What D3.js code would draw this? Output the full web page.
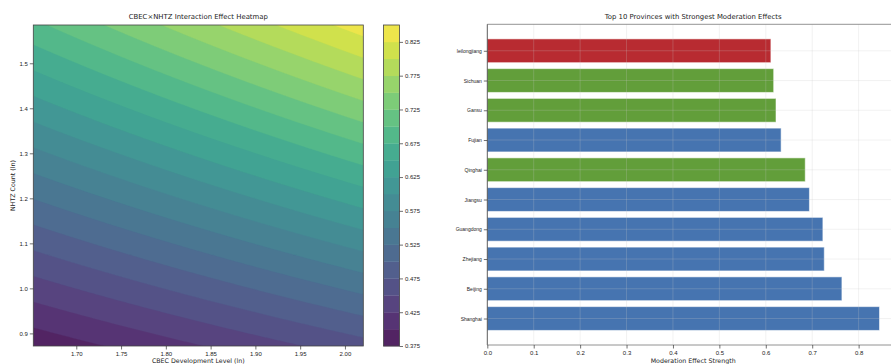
<!DOCTYPE html>
<html>
<head>
<meta charset="utf-8">
<script src="https://cdn.jsdelivr.net/npm/d3@7"></script>
<style>
  html, body { margin: 0; padding: 0; background: #fff; }
  svg { display: block; font-family: "DejaVu Sans", sans-serif; }
</style>
</head>
<body>
<svg id="chart" width="891" height="364"></svg>
<script>
// ---------------- DATA ----------------
// Heatmap surface: values read at the corners of the plotted domain
const surfaceX = [1.652, 2.0205];          // CBEC Development Level (ln)
const surfaceY = [0.872, 1.585];           // NHTZ Count (ln)
const surfaceZ = [[0.382, 0.465],          // row at y = 0.872 (left, right)
                  [0.694, 0.838]];         // row at y = 1.585 (left, right)
const contourLevels = d3.range(0, 20).map(i => +(0.375 + i * 0.025).toFixed(3));
const heatXTicks = [1.70, 1.75, 1.80, 1.85, 1.90, 1.95, 2.00];
const heatYTicks = [0.9, 1.0, 1.1, 1.2, 1.3, 1.4, 1.5];
const colorbarTicks = [0.375, 0.425, 0.475, 0.525, 0.575, 0.625, 0.675, 0.725, 0.775, 0.825];

// Bar chart
const provinces = ["Shanghai", "Beijing", "Zhejiang", "Guangdong", "Jiangsu",
                   "Qinghai", "Fujian", "Gansu", "Sichuan", "leilongjiang"];
const effects = [0.845, 0.764, 0.726, 0.723, 0.694, 0.685, 0.633, 0.622, 0.617, 0.611];
const regions = ["East", "East", "East", "East", "East",
                 "West", "East", "West", "West", "Northeast"];
const barXTicks = [0.0, 0.1, 0.2, 0.3, 0.4, 0.5, 0.6, 0.7, 0.8];
const regionColors = { East: "#4674b0", West: "#629e3a", Northeast: "#b82b31" };

// ---------------- DRAW ----------------
const svg = d3.select("#chart");
const textColor = "#222";
const heatAlpha = 0.9;

// muted viridis (colour-matrix desaturation)
const defs = svg.append("defs");
defs.append("filter").attr("id", "mute").attr("color-interpolation-filters", "sRGB")
  .attr("x", 0).attr("y", 0).attr("width", 1).attr("height", 1)
  .append("feColorMatrix").attr("type", "saturate").attr("values", 0.85);

// ===== Heatmap =====
const H = { left: 33.3, right: 363.3, top: 25, bottom: 346 };
const hx = d3.scaleLinear().domain(surfaceX).range([H.left, H.right]);
const hy = d3.scaleLinear().domain(surfaceY).range([H.bottom, H.top]);

function surface(x, y) {
  const tx = (x - surfaceX[0]) / (surfaceX[1] - surfaceX[0]);
  const ty = (y - surfaceY[0]) / (surfaceY[1] - surfaceY[0]);
  const b = surfaceZ[0][0] * (1 - tx) + surfaceZ[0][1] * tx;
  const t = surfaceZ[1][0] * (1 - tx) + surfaceZ[1][1] * tx;
  return b * (1 - ty) + t * ty;
}

const pad = 3;
const gw = Math.ceil(H.right - H.left) + 2 * pad;
const gh = Math.ceil(H.bottom - H.top) + 2 * pad;
const gx0 = H.left - pad, gy0 = H.top - pad;
const values = new Array(gw * gh);
for (let j = 0; j < gh; j++) {
  for (let i = 0; i < gw; i++) {
    const px = gx0 + i + 0.5, py = gy0 + j + 0.5;
    values[j * gw + i] = surface(hx.invert(px), hy.invert(py));
  }
}
const bandThresholds = contourLevels.slice(0, -1);
const contours = d3.contours().size([gw, gh]).smooth(true).thresholds(bandThresholds)(values);
const lo = contourLevels[0], hi = contourLevels[contourLevels.length - 1];
const bandColor = t => d3.interpolateViridis(((t + 0.0125) - lo) / (hi - lo));

defs.append("clipPath").attr("id", "heatClip")
  .append("rect").attr("x", H.left).attr("y", H.top)
  .attr("width", H.right - H.left).attr("height", H.bottom - H.top);

const path = d3.geoPath(d3.geoTransform({
  point: function (x, y) { this.stream.point(gx0 + x, gy0 + y); }
}));
const heat = svg.append("g").attr("clip-path", "url(#heatClip)")
  .append("g").attr("opacity", heatAlpha)
  .append("g").attr("filter", "url(#mute)");
heat.append("rect").attr("x", H.left - 1).attr("y", H.top - 1)
  .attr("width", H.right - H.left + 2).attr("height", H.bottom - H.top + 2)
  .attr("fill", bandColor(lo));
heat.selectAll("path").data(contours).join("path")
  .attr("d", path)
  .attr("fill", d => bandColor(d.value))
  .attr("stroke", d => bandColor(d.value))
  .attr("stroke-width", 0.3);

svg.append("rect").attr("x", H.left).attr("y", H.top)
  .attr("width", H.right - H.left).attr("height", H.bottom - H.top)
  .attr("fill", "none").attr("stroke", "#444").attr("stroke-width", 0.8);

const hxAxis = svg.append("g").attr("transform", `translate(0,${H.bottom})`)
  .call(d3.axisBottom(hx).tickValues(heatXTicks).tickFormat(d3.format(".2f")).tickSize(3.5).tickPadding(2));
const hyAxis = svg.append("g").attr("transform", `translate(${H.left},0)`)
  .call(d3.axisLeft(hy).tickValues(heatYTicks).tickFormat(d3.format(".1f")).tickSize(3.5).tickPadding(2));
[hxAxis, hyAxis].forEach(a => {
  a.select(".domain").remove();
  a.selectAll(".tick line").attr("stroke", "#333").attr("stroke-width", 0.7);
  a.selectAll(".tick text").attr("fill", textColor).style("font-size", "6px");
});

svg.append("text").attr("x", (H.left + H.right) / 2).attr("y", 18.5)
  .attr("text-anchor", "middle").attr("fill", textColor).style("font-size", "6.9px")
  .text("CBEC×NHTZ Interaction Effect Heatmap");
svg.append("text").attr("x", (H.left + H.right) / 2).attr("y", 362.5)
  .attr("text-anchor", "middle").attr("fill", textColor).style("font-size", "6.3px")
  .text("CBEC Development Level (ln)");
svg.append("text").attr("transform", `translate(14.5,${(H.top + H.bottom) / 2}) rotate(-90)`)
  .attr("text-anchor", "middle").attr("fill", textColor).style("font-size", "6.3px")
  .text("NHTZ Count (ln)");

// ===== Colorbar =====
const C = { left: 383.5, right: 399.5, top: 25, bottom: 346 };
const cy = d3.scaleLinear().domain([lo, hi]).range([C.bottom, C.top]);
svg.append("g").attr("opacity", heatAlpha).append("g").attr("filter", "url(#mute)")
  .selectAll("rect").data(bandThresholds).join("rect")
  .attr("x", C.left).attr("width", C.right - C.left)
  .attr("y", d => cy(d + 0.025)).attr("height", d => cy(d) - cy(d + 0.025) + 0.3)
  .attr("fill", d => bandColor(d));
svg.append("rect").attr("x", C.left).attr("y", C.top)
  .attr("width", C.right - C.left).attr("height", C.bottom - C.top)
  .attr("fill", "none").attr("stroke", "#444").attr("stroke-width", 0.8);
const cAxis = svg.append("g").attr("transform", `translate(${C.right},0)`)
  .call(d3.axisRight(cy).tickValues(colorbarTicks).tickFormat(d3.format(".3f")).tickSize(3.5).tickPadding(2));
cAxis.select(".domain").remove();
cAxis.selectAll(".tick line").attr("stroke", "#333").attr("stroke-width", 0.7);
cAxis.selectAll(".tick text").attr("fill", textColor).style("font-size", "6px");

// ===== Bar chart =====
const B = { left: 487.3, right: 899, top: 24.3, bottom: 345 };
const bx = d3.scaleLinear().domain([0, 0.887]).range([B.left, B.right]);
const by = d3.scaleLinear().domain([-0.89, provinces.length - 1 + 0.89]).range([B.bottom, B.top]);
const idx = d3.range(provinces.length);

svg.append("g").selectAll("rect").data(idx).join("rect")
  .attr("x", bx(0))
  .attr("y", i => by(i + 0.4))
  .attr("width", i => bx(effects[i]) - bx(0))
  .attr("height", i => by(i - 0.4) - by(i + 0.4))
  .attr("fill", i => regionColors[regions[i]])
  .attr("stroke", "#ffffff").attr("stroke-opacity", 0.55).attr("stroke-width", 1);

const grid = svg.append("g").attr("stroke", "rgb(200,200,200)").attr("stroke-opacity", 0.3).attr("stroke-width", 0.8);
grid.selectAll("line.v").data(barXTicks.slice(1)).join("line").attr("class", "v")
  .attr("x1", d => bx(d)).attr("x2", d => bx(d)).attr("y1", B.top).attr("y2", B.bottom);
grid.selectAll("line.h").data(idx).join("line").attr("class", "h")
  .attr("x1", B.left).attr("x2", B.right).attr("y1", i => by(i)).attr("y2", i => by(i));

// spines
svg.append("line").attr("x1", B.left).attr("x2", B.right).attr("y1", B.top).attr("y2", B.top)
  .attr("stroke", "#777").attr("stroke-width", 0.8);
svg.append("line").attr("x1", B.left).attr("x2", B.left).attr("y1", B.top).attr("y2", B.bottom)
  .attr("stroke", "#333").attr("stroke-width", 0.8);
svg.append("line").attr("x1", B.left).attr("x2", B.right).attr("y1", B.bottom).attr("y2", B.bottom)
  .attr("stroke", "#777").attr("stroke-width", 0.8);

const bxAxis = svg.append("g").attr("transform", `translate(0,${B.bottom})`)
  .call(d3.axisBottom(bx).tickValues(barXTicks).tickFormat(d3.format(".1f")).tickSize(3.5).tickPadding(2));
const byAxis = svg.append("g").attr("transform", `translate(${B.left},0)`)
  .call(d3.axisLeft(by).tickValues(idx).tickFormat(i => provinces[i]).tickSize(3.5).tickPadding(2));
[bxAxis, byAxis].forEach(a => {
  a.select(".domain").remove();
  a.selectAll(".tick line").attr("stroke", "#333").attr("stroke-width", 0.7);
  a.selectAll(".tick text").attr("fill", textColor);
});
bxAxis.selectAll(".tick text").style("font-size", "6px");
byAxis.selectAll(".tick text").style("font-size", "5px");

svg.append("text").attr("x", (B.left + B.right) / 2).attr("y", 18.5)
  .attr("text-anchor", "middle").attr("fill", textColor).style("font-size", "6.9px")
  .text("Top 10 Provinces with Strongest Moderation Effects");
svg.append("text").attr("x", (B.left + B.right) / 2).attr("y", 362.5)
  .attr("text-anchor", "middle").attr("fill", textColor).style("font-size", "6.3px")
  .text("Moderation Effect Strength");
</script>
</body>
</html>
